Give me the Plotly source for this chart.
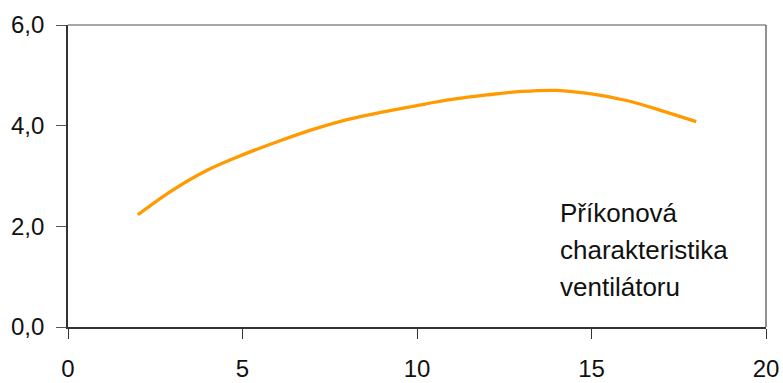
import plotly.graph_objects as go

x_vals = [2, 3, 4, 5, 6, 7, 8, 9, 10, 11, 12, 13, 14, 15, 16, 17, 18]
y_vals = [2.23, 2.72, 3.12, 3.42, 3.68, 3.92, 4.12, 4.27, 4.40, 4.52, 4.61, 4.68, 4.70, 4.63, 4.50, 4.30, 4.08]
x_ticks = [0, 5, 10, 15, 20]
y_ticks = [0, 2, 4, 6]
label_lines = ["Příkonová", "charakteristika", "ventilátoru"]

FONT = "Liberation Sans, Arial, sans-serif"

fig = go.Figure()
fig.add_trace(go.Scatter(
    x=x_vals, y=y_vals, mode="lines",
    line=dict(color="#FF9A00", width=3.3, shape="spline", smoothing=1.0),
    hoverinfo="skip", showlegend=False,
))

for i, txt in enumerate(label_lines):
    fig.add_annotation(
        x=0.7015, y=0.377 - i * 0.1225, xref="paper", yref="paper",
        text=txt, showarrow=False, align="left",
        xanchor="left", yanchor="middle",
        font=dict(family=FONT, size=26, color="#111111"),
    )

# top and right thin frame
fig.add_shape(type="line", xref="paper", yref="paper", x0=0, x1=1, y0=1, y1=1,
              line=dict(color="#8a8a8a", width=1.3))
fig.add_shape(type="line", xref="paper", yref="paper", x0=1, x1=1, y0=0, y1=1,
              line=dict(color="#555555", width=1.3))

fig.update_layout(
    width=783, height=383,
    margin=dict(l=68, r=17, t=25, b=56, autoexpand=False),
    paper_bgcolor="white", plot_bgcolor="white",
    separators=", ",
    font=dict(family=FONT, size=24, color="#111111"),
    showlegend=False,
)
fig.update_xaxes(
    range=[0, 20], tickvals=x_ticks, showgrid=False, zeroline=False,
    showline=True, linecolor="#333333", linewidth=1.6,
    ticks="outside", ticklen=10, tickcolor="#333333", tickwidth=1.3,
    ticklabelstandoff=9, automargin=False,
    tickfont=dict(family=FONT, size=24, color="#111111"),
)
fig.update_yaxes(
    range=[0, 6], tickvals=y_ticks, tickformat=".1f", showgrid=False, zeroline=False,
    showline=True, linecolor="#333333", linewidth=1.6,
    ticks="outside", ticklen=10, tickcolor="#555555", tickwidth=1.3,
    ticklabelstandoff=7, automargin=False,
    tickfont=dict(family=FONT, size=24, color="#111111"),
)

fig.write_html("out.html", config={"displayModeBar": False},
               post_script="document.body.style.margin='0';document.body.style.overflow='hidden';")
